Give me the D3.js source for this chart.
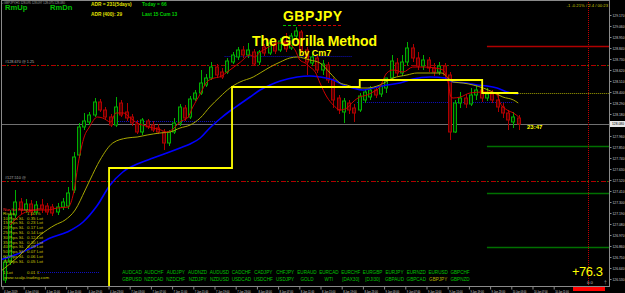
<!DOCTYPE html>
<html><head><meta charset="utf-8">
<script src="https://cdn.jsdelivr.net/npm/d3@7"></script>
<style>
html,body{margin:0;padding:0;background:#000;overflow:hidden}
svg{display:block;font-family:"Liberation Sans",Arial,sans-serif}
</style></head><body><div id="wrap"></div>
<script>
const W = 625, H = 293;
const plot = {left: 1, right: 609, top: 0, bottom: 286};

// H1 bars [open, high, low, close]
const candles = [
 [126.52,126.76,126.49,126.70],[126.70,127.22,126.67,127.17],[127.17,127.42,127.14,127.30],[127.30,127.34,127.18,127.22],
 [127.22,127.33,127.19,127.28],[127.28,127.32,127.16,127.20],[127.20,127.31,127.17,127.27],[127.27,127.33,127.19,127.23],
 [127.26,127.29,127.17,127.20],[127.25,127.28,127.16,127.19],[127.20,127.29,127.17,127.25],[127.25,127.34,127.22,127.30],
 [127.26,127.45,127.23,127.39],[127.42,127.80,127.39,127.75],[127.77,128.09,127.74,128.05],[128.05,128.19,128.02,128.11],
 [128.10,128.20,128.07,128.17],[128.17,128.34,128.15,128.30],[128.30,128.33,128.20,128.22],[128.22,128.25,128.13,128.15],
 [128.15,128.18,128.05,128.07],[128.07,128.35,128.05,128.25],[128.29,128.32,128.15,128.17],[128.20,128.29,128.11,128.14],
 [128.15,128.18,128.06,128.09],[128.08,128.12,127.98,128.00],[128.00,128.14,127.97,128.12],[128.11,128.13,128.03,128.05],
 [128.07,128.11,128.00,128.02],[128.04,128.08,127.98,128.00],[128.00,128.03,127.82,127.89],[127.89,128.02,127.86,128.00],
 [128.00,128.14,127.98,128.09],[128.09,128.28,128.06,128.25],[128.24,128.27,128.11,128.14],[128.15,128.36,128.13,128.33],
 [128.33,128.42,128.31,128.39],[128.39,128.62,128.37,128.49],[128.47,128.58,128.45,128.54],[128.54,128.70,128.52,128.65],
 [128.65,128.68,128.54,128.57],[128.60,128.64,128.53,128.55],[128.60,128.74,128.58,128.71],[128.70,128.80,128.68,128.77],
 [128.75,128.85,128.72,128.82],[128.82,128.86,128.74,128.77],[128.77,128.89,128.74,128.82],[128.80,128.83,128.66,128.68],
 [128.70,128.82,128.67,128.80],[128.85,128.88,128.76,128.79],[128.79,128.92,128.77,128.89],[128.88,128.91,128.78,128.81],
 [128.82,128.94,128.80,128.91],[128.91,128.99,128.80,128.83],[128.84,128.99,128.82,128.96],[128.96,129.05,128.93,129.01],
 [129.00,129.02,128.79,128.82],[128.82,128.85,128.57,128.70],[128.69,128.80,128.66,128.75],[128.74,128.77,128.59,128.62],
 [128.62,128.72,128.57,128.68],[128.67,128.70,128.49,128.52],[128.52,128.54,128.24,128.32],[128.34,128.37,128.18,128.22],
 [128.20,128.34,128.09,128.31],[128.29,128.32,128.18,128.22],[128.24,128.28,128.10,128.19],[128.22,128.39,128.20,128.36],
 [128.32,128.43,128.29,128.40],[128.35,128.46,128.32,128.42],[128.42,128.45,128.34,128.37],[128.38,128.49,128.35,128.46],
 [128.44,128.51,128.39,128.54],[128.54,128.77,128.52,128.71],[128.69,128.74,128.56,128.59],[128.59,128.77,128.56,128.70],
 [128.70,128.90,128.67,128.84],[128.84,128.88,128.70,128.74],[128.74,128.80,128.62,128.66],[128.66,128.77,128.62,128.72],
 [128.72,128.75,128.60,128.64],[128.64,128.69,128.56,128.60],[128.60,128.70,128.57,128.66],[128.66,128.69,128.52,128.57],
 [128.57,128.60,127.92,128.00],[128.00,128.32,127.99,128.29],[128.29,128.40,128.24,128.34],[128.34,128.38,128.24,128.28],
 [128.28,128.44,128.26,128.37],[128.37,128.47,128.32,128.42],[128.42,128.46,128.30,128.34],[128.34,128.44,128.31,128.38],
 [128.38,128.42,128.29,128.32],[128.32,128.39,128.20,128.25],[128.25,128.29,128.14,128.19],[128.19,128.22,128.02,128.12],
 [128.10,128.20,128.04,128.15],[128.14,128.17,128.02,128.08]
];

// moving averages [bar, price]
const redMA = [[1,127.07],[4,127.20],[6,127.22],[8,127.22],[10,127.24],[12,127.25],[13,127.39],[14,127.72],[15,127.95],[16,128.05],[17.5,128.15],[18.5,128.14],[20,128.10],[21,128.19],[22.5,128.19],[23.5,128.15],[25,128.09],[26,128.07],[28,128.04],[29.5,128.02],[30.5,128.00],[32,128.04],[33,128.10],[34.5,128.14],[35.5,128.25],[37,128.39],[38,128.49],[39.5,128.54],[40.5,128.55],[42.5,128.62],[44.5,128.70],[46.3,128.77],[47.2,128.75],[48.2,128.80],[49.5,128.84],[51.4,128.89],[53,128.89],[54,128.87],[54.8,128.82],[55.7,128.72],[56.7,128.69],[57.6,128.65],[58.6,128.60],[59.5,128.49],[60.8,128.35],[62,128.27],[63.3,128.22],[64.6,128.24],[65.7,128.30],[67,128.35],[68.4,128.37],[69.5,128.40],[70.8,128.45],[72.1,128.59],[73.3,128.62],[75.2,128.60],[77,128.65],[79,128.65],[81.2,128.64],[82.7,128.62],[83.7,128.49],[84.2,128.35],[84.6,128.34],[86,128.35],[87.8,128.39],[90.3,128.40],[91.6,128.40],[92.9,128.37],[93.5,128.29],[94.8,128.22],[96,128.19],[97,128.15]];
const oliveMA = [[-0.9,126.60],[2.9,126.77],[6.7,126.97],[9.5,127.07],[11.4,127.12],[13.3,127.22],[15.2,127.42],[16.1,127.52],[18,127.72],[20.4,127.89],[23.1,127.94],[25,127.95],[26.9,127.97],[29.3,127.99],[31.2,128.00],[33.1,128.04],[35,128.07],[36.9,128.14],[38.7,128.25],[40.6,128.35],[42.5,128.44],[44.4,128.50],[46.9,128.55],[48.2,128.59],[50.1,128.65],[52,128.70],[53.8,128.74],[55.2,128.75],[57.6,128.72],[59.5,128.69],[61.4,128.59],[63.3,128.49],[64.6,128.47],[65.7,128.45],[67,128.44],[68.4,128.44],[70.8,128.47],[73.3,128.54],[75.9,128.57],[77.8,128.59],[80.3,128.59],[82.5,128.59],[83.5,128.55],[84.6,128.50],[86.5,128.49],[88.4,128.47],[90.3,128.44],[92.1,128.40],[94,128.35],[96,128.32],[96.9,128.29]];
const blueMA = [[-0.9,126.72],[2.9,126.79],[5.4,126.85],[8.6,126.94],[11.8,127.00],[14.8,127.10],[17.4,127.26],[19.9,127.47],[22.3,127.60],[25.5,127.69],[28,127.74],[30.6,127.79],[33.1,127.84],[35,127.88],[36.9,127.94],[38.7,128.04],[40.6,128.13],[42.5,128.21],[44.4,128.28],[46.3,128.35],[48.2,128.42],[50.1,128.47],[52,128.51],[55.2,128.55],[57.6,128.56],[59.5,128.55],[62,128.52],[63.9,128.47],[65.7,128.44],[67.6,128.42],[69.5,128.44],[72.1,128.47],[74.6,128.49],[77,128.53],[80.3,128.55],[83.1,128.54],[84.6,128.50],[87.2,128.49],[89.1,128.47],[91,128.46],[92.9,128.44],[94.8,128.40],[96.9,128.38]];
// yellow step line [bar, level]
const stepLine = [[19.7,126.30],[19.7,127.64],[42.9,128.45],[67,128.52],[90.1,128.39],[96.9,128.39]];
const stepExtend = 128.39;

// horizontal levels
const dashLevels = [{p:128.67, label:"#128.670 @ 1.25"},{p:127.51, label:"#127.510 @"}];
const shortLevels = [{p:128.86, c:"#b00000"},{p:127.86, c:"#007000"},{p:127.39, c:"#007000"},{p:126.85, c:"#007000"}];
const shortFromBar = 91;
const blueDots = [[41.5,65.5,128.76],[66.5,96,128.30],[21,40,128.11],[6.3,18,126.60]];
const bid = 128.08;
const markerBar = 110;

const timeLabels = ["4 Jan 2019","4 Jan 07:00","4 Jan 11:00","4 Jan 15:00","4 Jan 19:00","4 Jan 23:00","7 Jan 03:00","7 Jan 07:00","7 Jan 11:00","7 Jan 15:00","7 Jan 19:00","7 Jan 23:00","8 Jan 03:00","8 Jan 07:00","8 Jan 11:00","8 Jan 15:00","8 Jan 19:00","8 Jan 23:00","9 Jan 03:00","9 Jan 07:00","9 Jan 11:00","9 Jan 15:00","9 Jan 19:00","9 Jan 23:00","10 Jan 03:00","10 Jan 07:00","10 Jan 11:00"];
const priceTicks = [129.17,129.06,128.95,128.84,128.73,128.62,128.51,128.40,128.29,128.18,127.96,127.85,127.74,127.63,127.52,127.41,127.30,127.19,127.08,126.97,126.86,126.75,126.64,126.53];

const riskRows = [["10 Pips SL","0.35 Lot"],["15 Pips SL","0.23 Lot"],["20 Pips SL","0.17 Lot"],["25 Pips SL","0.14 Lot"],["30 Pips SL","0.12 Lot"],["35 Pips SL","0.10 Lot"],["40 Pips SL","0.09 Lot"],["50 Pips SL","0.07 Lot"],["60 Pips SL","0.06 Lot"],["70 Pips SL","0.05 Lot"]];
const pairsTop = ["AUDCAD","AUDCHF","AUDJPY","AUDNZD","AUDUSD","CADCHF","CADJPY","CHFJPY","EURAUD","EURCAD","EURCHF","EURGBP","EURJPY","EURNZD","EURUSD","GBPCHF"];
const pairsBottom = ["GBPUSD","NZDCAD","NZDCHF","NZDJPY","NZDUSD","USDCAD","USDCHF","USDJPY","GOLD","WTI","[DAX30]","[DJI30]","GBPAUD","GBPCAD","GBPJPY","GBPNZD"];
const activePair = "GBPJPY";

const x = d3.scaleLinear().domain([0, 1]).range([2, 7.3]);
const y = d3.scaleLinear().domain([126.46, 129.32]).range([plot.bottom, plot.top]);
const cx = b => x(b + 0.5);

const svg = d3.select("#wrap").append("svg").attr("width", W).attr("height", H);
svg.append("rect").attr("width", W).attr("height", H).attr("fill", "#000");
svg.append("clipPath").attr("id", "clip").append("rect")
    .attr("x", plot.left).attr("y", plot.top)
    .attr("width", plot.right - plot.left).attr("height", plot.bottom - plot.top);

const g = svg.append("g").attr("clip-path", "url(#clip)");

// level lines
dashLevels.forEach(l => {
    g.append("line").attr("x1", plot.left).attr("x2", plot.right)
        .attr("y1", Math.round(y(l.p)) + 0.5).attr("y2", Math.round(y(l.p)) + 0.5)
        .attr("stroke", "#b00000").attr("stroke-dasharray", "5,2,1,2");
    g.append("line").attr("x1", plot.left + 6).attr("x2", plot.right)
        .attr("y1", Math.round(y(l.p)) + 0.5).attr("y2", Math.round(y(l.p)) + 0.5)
        .attr("stroke", "#00a000").attr("stroke-dasharray", "1,9");
    g.append("text").attr("x", 5).attr("y", y(l.p) - 2.5)
        .attr("font-size", 3.8).attr("fill", "#b0b0b0").text(l.label);
});
shortLevels.forEach(l => {
    g.append("line").attr("x1", cx(shortFromBar)).attr("x2", plot.right)
        .attr("y1", Math.round(y(l.p)) + 0.5).attr("y2", Math.round(y(l.p)) + 0.5)
        .attr("stroke", l.c).attr("stroke-width", 1.3);
});
g.append("line").attr("x1", plot.left).attr("x2", plot.right)
    .attr("y1", Math.round(y(bid)) + 0.5).attr("y2", Math.round(y(bid)) + 0.5)
    .attr("stroke", "#707070");
blueDots.forEach(d => {
    g.append("line").attr("x1", cx(d[0])).attr("x2", cx(d[1]))
        .attr("y1", Math.round(y(d[2])) + 0.5).attr("y2", Math.round(y(d[2])) + 0.5)
        .attr("stroke", "#1010c0").attr("stroke-dasharray", "1,1");
});
g.append("line").attr("x1", Math.round(cx(markerBar)) + 0.5).attr("x2", Math.round(cx(markerBar)) + 0.5)
    .attr("y1", plot.top).attr("y2", plot.bottom)
    .attr("stroke", "#c00000").attr("stroke-dasharray", "1,1");
g.append("line").attr("x1", cx(stepLine[stepLine.length - 1][0])).attr("x2", plot.right)
    .attr("y1", Math.round(y(stepExtend)) + 0.5).attr("y2", Math.round(y(stepExtend)) + 0.5)
    .attr("stroke", "#a0a000").attr("stroke-dasharray", "1,1");

// candles
const bull = d => d[3] >= d[0];
g.selectAll("line.wick").data(candles).join("line").attr("class", "wick")
    .attr("x1", (d, i) => Math.round(cx(i)) + 0.5).attr("x2", (d, i) => Math.round(cx(i)) + 0.5)
    .attr("y1", d => y(d[1])).attr("y2", d => y(d[2]))
    .attr("stroke", d => bull(d) ? "#00b000" : "#b00000");
g.selectAll("rect.body").data(candles).join("rect").attr("class", "body")
    .attr("x", (d, i) => Math.round(cx(i)) - 1.5).attr("width", 3)
    .attr("y", d => y(Math.max(d[0], d[3])))
    .attr("height", d => Math.max(1, Math.abs(y(d[0]) - y(d[3]))))
    .attr("fill", d => bull(d) ? "#002800" : "#500000")
    .attr("stroke", d => bull(d) ? "#00b000" : "#b00000");

// moving averages
const maLine = d3.line().curve(d3.curveMonotoneX).x(d => cx(d[0])).y(d => y(d[1]));
g.append("path").attr("d", maLine(blueMA)).attr("fill", "none").attr("stroke", "#0000ff").attr("stroke-width", 1.6);
g.append("path").attr("d", maLine(oliveMA)).attr("fill", "none").attr("stroke", "#a8a800").attr("stroke-width", 1);
g.append("path").attr("d", maLine(redMA)).attr("fill", "none").attr("stroke", "#d00000").attr("stroke-width", 1);
const stepGen = d3.line().curve(d3.curveStepAfter).x(d => cx(d[0])).y(d => y(d[1]));
g.append("path").attr("d", stepGen(stepLine)).attr("fill", "none").attr("stroke", "#ffff00").attr("stroke-width", 1.8);

// frame and axes
svg.append("rect").attr("x", plot.left + 0.5).attr("y", plot.top + 0.5)
    .attr("width", plot.right - plot.left).attr("height", plot.bottom - plot.top)
    .attr("fill", "none").attr("stroke", "#8a8a8a");

const xAxis = d3.axisBottom(x)
    .tickValues(timeLabels.map((d, i) => i * 4))
    .tickFormat((d, i) => timeLabels[i])
    .tickSize(3).tickSizeOuter(0);
const gx = svg.append("g").attr("transform", `translate(0.5,${plot.bottom + 0.5})`).call(xAxis);
gx.select(".domain").remove();
gx.selectAll("line").attr("stroke", "#8a8a8a");
gx.selectAll("text").attr("text-anchor", "start").attr("dx", 1).attr("y", 4)
    .attr("font-size", 3.4).attr("fill", "#d8d8d8").attr("font-family", "Liberation Sans, Arial")
    .attr("textLength", 13.5).attr("lengthAdjust", "spacingAndGlyphs");

const yAxis = d3.axisRight(y).tickValues(priceTicks).tickFormat(d3.format(".3f")).tickSize(2).tickSizeOuter(0);
const gy = svg.append("g").attr("transform", `translate(${plot.right + 0.5},0)`).call(yAxis);
gy.select(".domain").remove();
gy.selectAll("line").attr("stroke", "#8a8a8a");
gy.selectAll("text").attr("x", 3).attr("font-size", 3.6).attr("fill", "#d0d0d0").attr("font-family", "Liberation Sans, Arial")
    .attr("textLength", 12).attr("lengthAdjust", "spacingAndGlyphs");
svg.append("rect").attr("x", plot.right + 1).attr("y", y(bid) - 3).attr("width", 15).attr("height", 6).attr("fill", "#e8e8e8");
svg.append("text").attr("x", plot.right + 3).attr("y", y(bid) + 1.3).attr("font-size", 3.6).attr("fill", "#000")
    .attr("textLength", 12).attr("lengthAdjust", "spacingAndGlyphs").text(d3.format(".3f")(bid));

// headline texts
const txt = (s, xx, yy, size, fill, weight, anchor) => svg.append("text")
    .attr("x", xx).attr("y", yy).attr("font-size", size).attr("fill", fill)
    .attr("font-weight", weight || "normal").attr("text-anchor", anchor || "start").text(s);

txt("\u25AA GBPJPY,H1  128.095 128.097 128.075 128.080", 2, 3.8, 3.2, "#9a9a9a").attr("textLength", 63);
txt("RmUp", 5, 9.5, 7.6, "#00c000", "bold");
txt("RmDn", 50, 9.5, 7.6, "#00c000", "bold");
txt("ADR = 231(5days)", 91, 6, 4.8, "#e0e000", "bold");
txt("Today = 66", 142, 6, 4.8, "#00d000", "bold");
txt("ADR (400): 29", 91, 16, 4.8, "#e0e000", "bold");
txt("Last 15 Cum 13", 142, 16, 4.8, "#00d000", "bold");
txt("-1 -0.21% / 2.4 / 00:23", 608, 7, 4.2, "#c8c800", "normal", "end");

txt("GBPJPY", 312.5, 21, 14, "#ffff00", "bold", "middle").attr("textLength", 59);
svg.append("line").attr("x1", 283).attr("x2", 297).attr("y1", 25.5).attr("y2", 25.5)
    .attr("stroke", "#00c000").attr("stroke-dasharray", "3,2");
svg.append("line").attr("x1", 298).attr("x2", 342).attr("y1", 25.5).attr("y2", 25.5)
    .attr("stroke", "#d00000").attr("stroke-dasharray", "3,2");
txt("The Gorilla Method", 314.5, 46, 14, "#ffff00", "bold", "middle").attr("textLength", 125);
txt("by Cm7", 315, 55.5, 9, "#ffff00", "bold", "middle");

txt("23:47", 527, 129, 6, "#ffff00", "bold");

// risk panel
txt("Nur f\u00fcr Fibonacci!!!", 3, 210.5, 4.4, "#ff2020");
txt("Risiko", 3, 215, 4.4, "#c8c800");
txt("1.00 %", 27, 215, 4.4, "#c8c800");
riskRows.forEach((r, i) => {
    txt(r[0], 3, 219.5 + i * 4.8, 4.4, "#c8c800");
    txt(r[1], 27, 219.5 + i * 4.8, 4.4, "#c8c800");
});
txt("1 Lot", 3, 273.5, 4.4, "#c8c800");
txt("0.01 \u20ac", 27, 273.5, 4.4, "#c8c800");
txt("www.scalp-trading.com", 4, 278.5, 4.4, "#c8c800");

// pair buttons
[pairsTop, pairsBottom].forEach((row, r) => {
    svg.append("g").selectAll("text").data(row).join("text")
        .attr("x", (d, i) => 132 + i * 21.87).attr("y", 273.5 + r * 7.3)
        .attr("text-anchor", "middle").attr("font-size", 4.6)
        .attr("fill", d => d === activePair && r === 1 ? "#b0b000" : "#00c000")
        .text(d => d);
});

// right-bottom widgets
txt("+76.3", 572, 276, 13, "#ffff00", "normal").attr("textLength", 31);
txt("0.0", 587, 283.5, 4.2, "#c0c0c0");
txt("\u2020", 604, 283.5, 5, "#a0a0a0");
svg.append("rect").attr("x", 573).attr("y", 287).attr("width", 32).attr("height", 4).attr("fill", "#ff0000");
</script></body></html>
